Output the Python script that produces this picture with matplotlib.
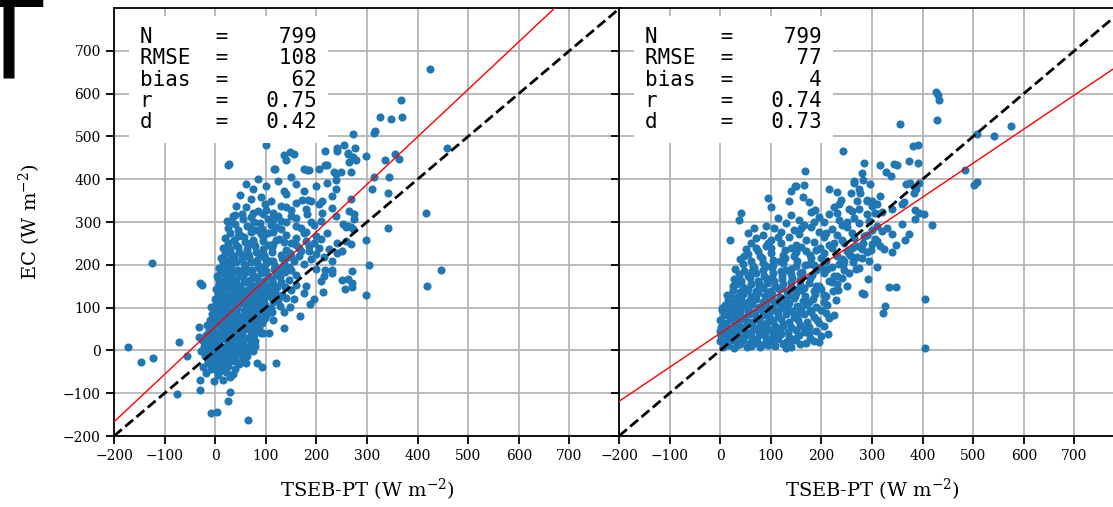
import numpy as np
import matplotlib
matplotlib.use("Agg")
import matplotlib.pyplot as plt

plt.rcParams["font.family"] = "DejaVu Serif"
plt.rcParams["mathtext.fontset"] = "dejavuserif"

# (TSEB-PT, EC) flux pairs in W m-2, left model run
pts_a = [
    (64, -162), (-8, -146), (3, -143), (25, -119), (-76, -103), (29, -98),
    (-30, -93), (-30, -70), (-2, -71), (16, -70), (-147, -28), (-122, -17),
    (-172, 8), (-71, 20), (-56, -12), (-33, 54), (-33, 31), (-31, 157),
    (-27, 152), (-125, 205), (92, -39), (82, -30), (121, -30), (51, -27),
    (-18, -52), (6, -57), (21, -50), (36, -56), (12, -45),
    (-24, -38), (-9, -43), (3, -35), (14, -41), (26, -37), (40, -44), (47, -31),
    (-14, -25), (-2, -31), (9, -22), (19, -29), (31, -24), (44, -27), (56, -20),
    (-20, -14), (-8, -18), (4, -10), (15, -16), (27, -12), (38, -19), (50, -9),
    (62, -14),
    (-28, -2), (-16, -6), (-5, 1), (7, -4), (18, 2), (29, -7), (41, 0),
    (53, -3), (66, 3), (75, -1),
    (-22, 11), (-10, 6), (2, 13), (13, 8), (25, 14), (36, 7), (48, 12),
    (60, 9), (71, 15),
    (-26, 24), (-15, 19), (-4, 26), (8, 21), (19, 27), (31, 19), (43, 25),
    (55, 20), (66, 28), (79, 23),
    (-19, 36), (-7, 31), (5, 38), (16, 33), (28, 39), (40, 32), (52, 37),
    (63, 30), (76, 35), (90, 40),
    (-13, 48), (-1, 43), (11, 50), (22, 45), (34, 51), (46, 44), (58, 49),
    (70, 42), (82, 47), (107, 41),
    (-16, 60), (-4, 55), (8, 62), (19, 57), (31, 64), (43, 56), (55, 61),
    (67, 54), (79, 59), (92, 63), (135, 53),
    (-10, 72), (2, 67), (14, 74), (25, 69), (37, 75), (49, 68), (61, 73),
    (73, 66), (86, 71), (99, 76),
    (-6, 84), (6, 79), (18, 86), (29, 81), (41, 87), (53, 80), (65, 85),
    (77, 78), (90, 83), (104, 88), (167, 81),
    (-3, 96), (9, 91), (21, 98), (32, 93), (44, 99), (56, 92), (68, 97),
    (80, 90), (94, 95), (110, 100), (148, 101),
    (2, 108), (14, 103), (26, 110), (37, 105), (49, 111), (61, 104), (73, 109),
    (86, 102), (99, 107), (115, 112), (128, 104), (187, 108),
    (-1, 120), (11, 115), (23, 122), (34, 117), (46, 123), (58, 116), (70, 121),
    (83, 114), (96, 119), (110, 124), (125, 117), (140, 122), (195, 121),
    (6, 132), (17, 127), (29, 134), (40, 129), (52, 135), (64, 128), (77, 133),
    (90, 126), (104, 131), (118, 136), (133, 129), (175, 133), (214, 136),
    (1, 144), (13, 139), (25, 146), (37, 141), (50, 147), (63, 140), (77, 145),
    (91, 138), (106, 143), (122, 148), (150, 141), (256, 143), (271, 147),
    (299, 129),
    (8, 156), (20, 151), (32, 158), (44, 153), (57, 159), (71, 152), (85, 157),
    (100, 150), (115, 155), (130, 160), (160, 153), (209, 163), (270, 157),
    (418, 151),
    (5, 168), (17, 163), (29, 170), (41, 165), (54, 171), (68, 164), (82, 169),
    (97, 162), (112, 167), (128, 172), (145, 165), (250, 164), (263, 166),
    (10, 180), (22, 175), (34, 182), (47, 177), (61, 183), (75, 176), (90, 181),
    (104, 174), (120, 179), (138, 184), (160, 177), (230, 181),
    (8, 192), (20, 187), (32, 194), (45, 189), (58, 195), (72, 188), (86, 193),
    (100, 186), (116, 191), (132, 196), (150, 189), (217, 188), (231, 188),
    (271, 186), (446, 189),
    (15, 204), (28, 199), (42, 206), (56, 201), (70, 207), (85, 200),
    (100, 205), (118, 198), (135, 203), (155, 208), (175, 201), (303, 200),
    (11, 216), (24, 211), (38, 218), (52, 213), (66, 219), (82, 212),
    (98, 217), (115, 210), (132, 215), (150, 220), (190, 213), (215, 218),
    (20, 228), (34, 223), (48, 230), (64, 225), (80, 231), (96, 224),
    (112, 229), (130, 222), (148, 227), (170, 232), (200, 225), (240, 228),
    (15, 240), (30, 235), (46, 242), (62, 237), (78, 243), (95, 236),
    (112, 241), (139, 234), (165, 239), (185, 244), (225, 237),
    (25, 252), (42, 247), (58, 254), (76, 249), (95, 255), (115, 248),
    (136, 253), (160, 246), (195, 251), (258, 256), (268, 249),
    (20, 262), (38, 257), (56, 264), (75, 259), (95, 265), (120, 258),
    (159, 263), (180, 256), (210, 261), (299, 257),
    (30, 274), (50, 269), (70, 276), (90, 271), (115, 277), (140, 270),
    (175, 275), (200, 268),
    (25, 286), (45, 281), (68, 288), (92, 283), (120, 289), (169, 285),
    (179, 276), (258, 288), (268, 288), (342, 286),
    (40, 296), (62, 291), (88, 298), (110, 293), (140, 299), (195, 292),
    (252, 295), (262, 290), (272, 284),
    (23, 302), (31, 302), (55, 306), (77, 301), (105, 308), (130, 303),
    (160, 309), (210, 302),
    (40, 316), (70, 311), (95, 318), (125, 313), (182, 319), (239, 313),
    (274, 318),
    (53, 319), (85, 325), (115, 321), (150, 327), (212, 320), (265, 326),
    (275, 308), (416, 320),
    (60, 334), (100, 329), (140, 336), (180, 331), (230, 333),
    (42, 338), (99, 343), (130, 338), (160, 345), (205, 341),
    (70, 354), (110, 349), (172, 351), (189, 350), (212, 350), (268, 354),
    (50, 364), (90, 359), (140, 366), (183, 352), (230, 361),
    (75, 377), (136, 373), (175, 373), (239, 378), (309, 378), (341, 368),
    (60, 388), (100, 383), (159, 388), (200, 384), (220, 390),
    (85, 400), (125, 396), (238, 398), (239, 413),
    (150, 405), (313, 405), (343, 405), (116, 423), (235, 417), (249, 417),
    (268, 417), (28, 435), (118, 425), (176, 425), (186, 421), (206, 425),
    (26, 433), (182, 421), (217, 433), (221, 433), (140, 444), (262, 461),
    (278, 444), (336, 444), (364, 448), (272, 451), (299, 454), (136, 457),
    (156, 458), (262, 458), (355, 458), (147, 464), (217, 466), (240, 466),
    (265, 440), (241, 472), (254, 479), (276, 472), (459, 474), (100, 479),
    (272, 505), (313, 509), (316, 512), (326, 545), (347, 541), (370, 545),
    (367, 586), (424, 658),
    # dense core along the 1:1 band
    (3, -48), (18, -33), (33, -15), (-12, -7), (11, -27), (24, 4), (45, -8),
    (-6, 17), (37, 15), (58, 2), (1, 29), (22, 36), (49, 31), (70, 34),
    (-10, 41), (14, 55), (38, 46), (62, 57), (87, 52), (-2, 66), (20, 81),
    (44, 64), (68, 79), (94, 70), (5, 88), (33, 86), (57, 77), (83, 93),
    (101, 82), (-8, 102), (17, 97), (42, 112), (66, 92), (90, 115), (112, 90),
    (8, 125), (31, 110), (55, 128), (79, 120), (103, 139), (120, 129),
    (15, 150), (40, 135), (63, 160), (88, 149), (113, 161), (137, 147),
    (3, 173), (26, 161), (50, 184), (74, 171), (97, 196), (124, 183),
    (145, 195), (18, 199), (36, 210), (61, 190), (88, 222), (108, 208),
    (140, 216), (165, 220), (25, 245), (52, 224), (71, 250), (104, 246),
    (126, 260), (150, 252), (185, 232), (45, 268), (80, 282), (105, 275),
    (130, 283), (160, 290), (35, 314), (75, 322), (115, 305), (150, 313),
    (190, 300), (220, 274), (240, 250), (205, 240), (230, 210), (250, 232),
    (200, 190), (180, 150), (215, 175), (155, 120), (135, 90), (115, 70),
    (95, 40), (78, 10), (60, -30), (30, -62), (-15, -30), (0, -15), (10, 28),
    (-8, 52), (26, 54), (51, 75), (77, 108),
]

# (TSEB-PT, EC) flux pairs in W m-2, right model run
pts_b = [
    (405, 6), (405, 119),
    (5, 8), (15, 12), (27, 6), (39, 14), (52, 9), (64, 15), (79, 7), (94, 13),
    (109, 10), (124, 16), (139, 8), (158, 14),
    (0, 22), (11, 17), (22, 24), (34, 19), (46, 25), (58, 18), (72, 23),
    (86, 16), (100, 21), (115, 26), (130, 19), (148, 24), (170, 18), (185, 23),
    (2, 34), (14, 29), (26, 36), (38, 31), (50, 37), (62, 30), (76, 35),
    (90, 28), (105, 33), (120, 38), (136, 31), (155, 36), (178, 30), (199, 34),
    (214, 39),
    (0, 46), (12, 41), (24, 48), (36, 43), (48, 49), (60, 42), (74, 47),
    (88, 40), (102, 45), (118, 50), (134, 43), (150, 48), (168, 42), (190, 46),
    (5, 58), (17, 53), (29, 60), (41, 55), (53, 61), (65, 54), (79, 59),
    (93, 52), (108, 57), (124, 62), (140, 55), (158, 60), (176, 54), (205, 58),
    (0, 70), (12, 65), (24, 72), (36, 67), (48, 73), (62, 66), (76, 71),
    (90, 64), (104, 69), (120, 74), (136, 67), (154, 72), (172, 66), (192, 70),
    (215, 75),
    (8, 82), (20, 77), (32, 84), (44, 79), (56, 85), (70, 78), (84, 83),
    (98, 76), (114, 81), (130, 86), (146, 79), (165, 84), (185, 78), (225, 82),
    (322, 87),
    (3, 94), (15, 89), (27, 96), (40, 91), (54, 97), (68, 90), (82, 95),
    (96, 88), (110, 93), (126, 98), (142, 91), (160, 96), (180, 90), (200, 94),
    (10, 106), (22, 101), (35, 108), (48, 103), (62, 109), (76, 102),
    (90, 107), (104, 100), (120, 105), (136, 110), (152, 103), (170, 108),
    (190, 102), (212, 106), (326, 104),
    (15, 118), (28, 113), (42, 120), (56, 115), (70, 121), (84, 114),
    (98, 119), (114, 112), (130, 117), (146, 122), (164, 115), (184, 120),
    (205, 114), (228, 118),
    (20, 130), (33, 125), (46, 132), (60, 127), (74, 133), (88, 126),
    (102, 131), (118, 124), (134, 129), (150, 134), (168, 127), (188, 132),
    (210, 126),
    (25, 142), (40, 137), (55, 144), (70, 139), (85, 145), (100, 138),
    (116, 143), (132, 136), (148, 141), (166, 146), (185, 139), (200, 144),
    (222, 138), (280, 134), (284, 131),
    (32, 154), (46, 149), (60, 156), (76, 151), (92, 157), (108, 150),
    (124, 155), (140, 148), (158, 153), (176, 158), (196, 151), (230, 155),
    (250, 151), (334, 148), (347, 147),
    (28, 166), (42, 161), (58, 168), (74, 163), (90, 169), (106, 162),
    (122, 167), (140, 160), (158, 165), (178, 170), (215, 163), (240, 168),
    (38, 178), (54, 173), (70, 180), (86, 175), (104, 181), (122, 174),
    (140, 179), (160, 172), (182, 177), (205, 182), (230, 175), (255, 180),
    (293, 167),
    (30, 190), (48, 185), (66, 192), (84, 187), (102, 193), (120, 186),
    (140, 191), (162, 184), (190, 189), (220, 194), (245, 187), (275, 192),
    (45, 202), (65, 197), (85, 204), (105, 199), (125, 205), (150, 198),
    (175, 203), (200, 196), (235, 201), (262, 206), (309, 196),
    (40, 214), (60, 209), (82, 216), (104, 211), (128, 217), (152, 210),
    (180, 215), (210, 208), (240, 213), (270, 218),
    (55, 226), (78, 221), (100, 228), (125, 223), (150, 229), (178, 222),
    (205, 227), (230, 220), (255, 225), (290, 230),
    (50, 238), (75, 233), (100, 240), (128, 235), (160, 241), (190, 234),
    (220, 239), (250, 232), (280, 237), (340, 230),
    (60, 250), (90, 245), (120, 252), (150, 247), (185, 253), (215, 246),
    (245, 251), (270, 244), (300, 249), (348, 246), (323, 238),
    (20, 258), (70, 262), (100, 257), (135, 264), (170, 259), (205, 265),
    (240, 258), (265, 263), (310, 256), (365, 259),
    (55, 274), (85, 269), (120, 276), (155, 271), (195, 277), (230, 270),
    (260, 275), (285, 268), (340, 273),
    (67, 287), (107, 286), (145, 281), (180, 288), (220, 283), (250, 289),
    (300, 282), (330, 287), (374, 273),
    (90, 291), (130, 298), (165, 293), (205, 299), (240, 292), (275, 297),
    (310, 290), (360, 295), (419, 293),
    (38, 305), (115, 310), (155, 305), (195, 311), (235, 304), (265, 309),
    (295, 302), (384, 308),
    (41, 322), (140, 317), (180, 324), (215, 319), (260, 325), (290, 318),
    (320, 323), (385, 329), (393, 320), (403, 318),
    (100, 334), (188, 329), (225, 336), (255, 331), (300, 337), (340, 330),
    (360, 343),
    (175, 346), (235, 341), (270, 348), (310, 343), (364, 347),
    (94, 355), (135, 349), (164, 358), (238, 352), (290, 348), (300, 350),
    (139, 372), (230, 369), (258, 367), (277, 367), (315, 361), (383, 367),
    (149, 383), (166, 387), (215, 377), (275, 377), (290, 352),
    (147, 383), (265, 391), (283, 398), (296, 388), (367, 388), (393, 390),
    (375, 392), (386, 378),
    (264, 395), (502, 387), (508, 394), (281, 414), (337, 408), (168, 420),
    (327, 416), (483, 421), (315, 434), (350, 434), (391, 437), (284, 439),
    (343, 436), (374, 443), (391, 480), (242, 467), (382, 477), (508, 505),
    (541, 500), (356, 528), (575, 524), (428, 538), (433, 584), (430, 596),
    (426, 604),
    # dense core between 0 and 250 W m-2
    (8, 28), (20, 50), (33, 12), (45, 32), (57, 66), (69, 22), (83, 48),
    (96, 72), (110, 38), (125, 58), (138, 24), (152, 86), (165, 50),
    (178, 94), (195, 64), (210, 88), (6, 64), (18, 98), (30, 80), (43, 112),
    (55, 90), (68, 124), (81, 100), (95, 136), (107, 116), (121, 146),
    (133, 98), (147, 126), (160, 140), (175, 112), (190, 150), (205, 130),
    (220, 160), (232, 140), (26, 150), (38, 172), (50, 140), (63, 186),
    (77, 158), (90, 198), (103, 170), (118, 210), (131, 188), (145, 220),
    (158, 180), (170, 232), (185, 200), (198, 240), (212, 190), (225, 250),
    (242, 200), (258, 220), (268, 190), (282, 250), (295, 210), (305, 260),
    (48, 220), (70, 240), (95, 250), (115, 265), (140, 240), (160, 285),
    (185, 300), (210, 275), (230, 320), (250, 300), (275, 330), (290, 270),
    (305, 320), (320, 280), (12, 40), (1, 55), (4, 100), (14, 130), (130, 6),
    (150, 30), (175, 40), (195, 20), (60, 10), (90, 55), (115, 90),
    (142, 170), (168, 200), (200, 215), (225, 175), (245, 210), (260, 240),
    (280, 215), (298, 235), (315, 245),
]

stat_names = ["N", "RMSE", "bias", "r", "d"]
stats_a = ["799", "108", "62", "0.75", "0.42"]
stats_b = ["799", "77", "4", "0.74", "0.73"]

# least-squares fit (slope, intercept) for each panel
fit_a = (1.11, 55)
fit_b = (0.795, 40)

lims = (-200, 800)
ticks = np.arange(-200, 800, 100)


def draw_panel(ax, pts, stats, fit):
    x, y = np.array(pts, dtype=float).T
    ax.scatter(x, y, s=34, color="#1f77b4", linewidths=0, zorder=2)

    line_x = np.array(lims)
    ax.plot(line_x, fit[0] * line_x + fit[1], color="red", lw=1.0, zorder=3)
    ax.plot(line_x, line_x, "k--", lw=2.0, zorder=3)

    ax.set_xlim(lims)
    ax.set_ylim(lims)
    ax.set_xticks(ticks)
    ax.set_yticks(ticks)
    ax.grid(True, color="#b5b5b5", lw=1.3)
    ax.set_axisbelow(True)
    ax.tick_params(length=6, width=1.3, labelsize=10)
    for sp in ax.spines.values():
        sp.set_linewidth(1.3)
    ax.set_xlabel("TSEB-PT (W m$^{-2}$)", fontsize=14, labelpad=10)

    text = "\n".join(f"{n:<6}={v:>7}" for n, v in zip(stat_names, stats))
    ax.text(0.051, 0.955, text, transform=ax.transAxes, ha="left", va="top",
            family="DejaVu Sans Mono", fontsize=15, linespacing=1.07,
            zorder=5,
            bbox=dict(facecolor="white", edgecolor="none", pad=8))


fig = plt.figure(figsize=(11.13, 5.07), dpi=100)
ax_a = fig.add_axes([114 / 1113, 71 / 507, 506 / 1113, 428 / 507])
ax_b = fig.add_axes([619 / 1113, 71 / 507, 506 / 1113, 428 / 507])

draw_panel(ax_a, pts_a, stats_a, fit_a)
draw_panel(ax_b, pts_b, stats_b, fit_b)
ax_b.tick_params(labelleft=False)
ax_a.set_ylabel("EC (W m$^{-2}$)", fontsize=14, labelpad=14)

fig.text(8 / 1113, 1 - 78 / 507, "T", fontsize=80, ha="center",
         va="baseline", family="DejaVu Sans")

fig.savefig("out.png", dpi=100)
